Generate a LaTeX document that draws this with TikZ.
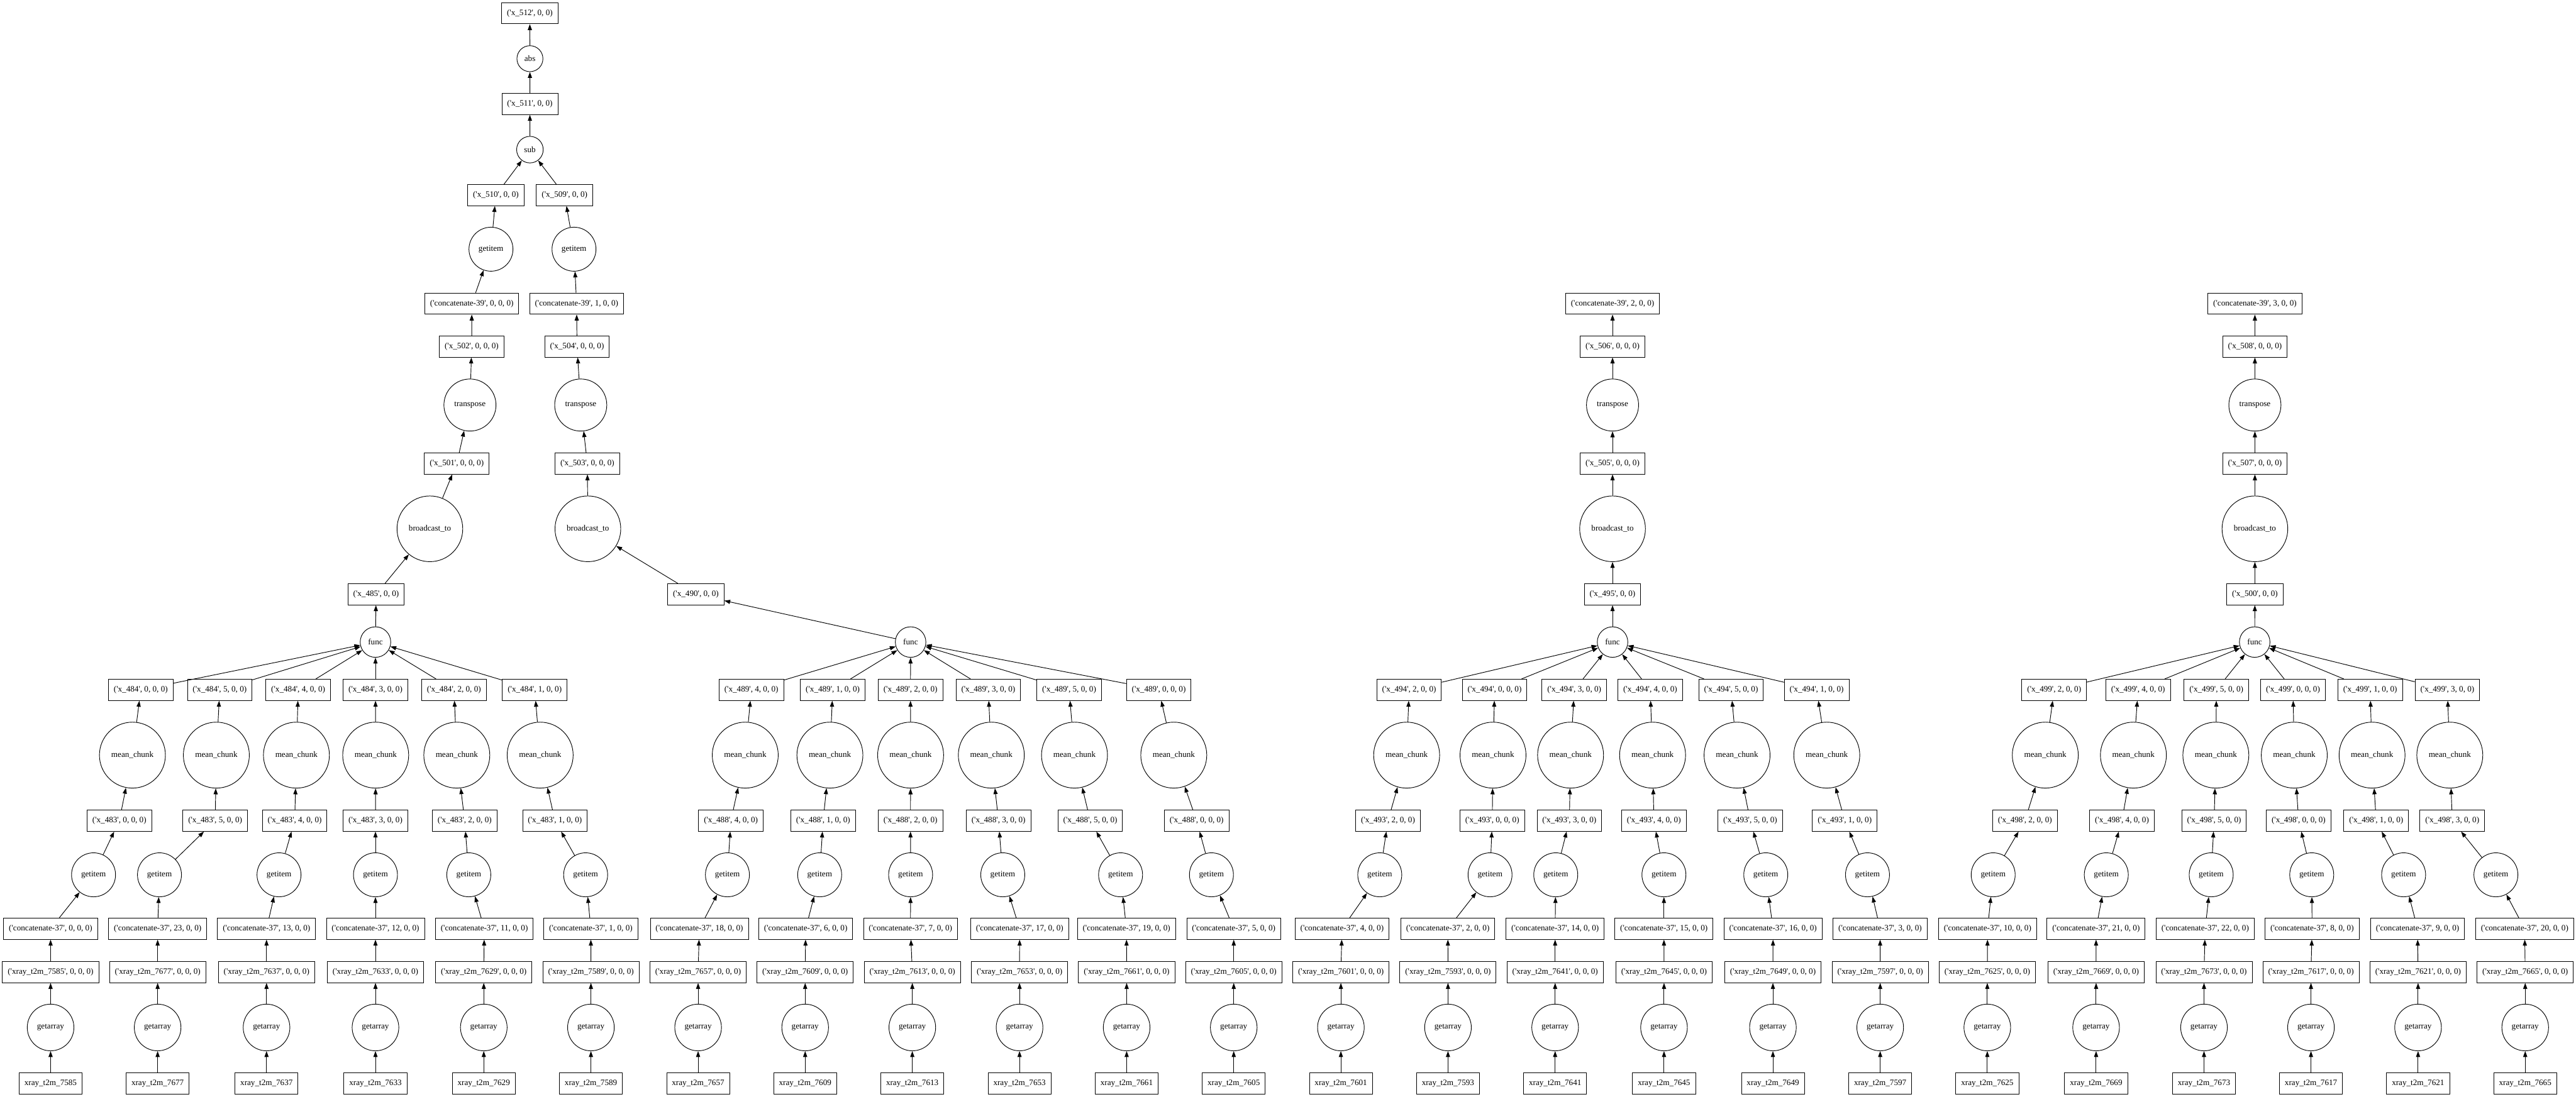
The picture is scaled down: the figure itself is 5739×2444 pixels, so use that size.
\documentclass[tikz,border=0pt]{standalone}
\usepackage{fontspec}
\newfontfamily\gvfont{Liberation Serif}
\usetikzlibrary{arrows.meta}
\tikzset{
  datanode/.style={rectangle, draw=black, line width=1pt, minimum width=54pt, minimum height=36pt, inner xsep=9pt, inner ysep=0pt, font=\gvfont\fontsize{14}{17}\selectfont},
  funcnode/.style={circle, draw=black, line width=1pt, inner sep=0pt, font=\gvfont\fontsize{14}{17}\selectfont},
  arrow/.style={line width=1pt, -{Triangle[length=10pt, width=7pt]}}
}

\begin{document}
\begin{tikzpicture}[x=0.76pt, y=-0.76pt]

    \useasboundingbox (0,0) rectangle (5739,2444);

    % Nodos func
    \foreach \fn/\xx in {f1/836.5, f2/2028.7, f3/3592.5, f4/5023.1} {
        \node[funcnode, minimum size=51.7pt] (\fn) at (\xx, 1431) {func};
    }

    % ==========================================
    % CADENAS DE LECTURA (xray -> mean_chunk)
    % ==========================================
    \foreach \id/\xb/\xc/\xg/\xa/\xm/\xo/\num/\kk/\src/\dst/\ii/\fn in {
        1/112.7/112.7/208.4/265.9/295/313.6/7585/0/483/484/0/f1,
        2/351.2/351.2/355.3/479.4/482/489.5/7677/23/483/484/5/f1,
        3/593.8/593.8/621.6/656.5/660.4/664.3/7637/13/483/484/4/f1,
        4/836.5/836.5/836.5/836.5/837/836.5/7633/12/483/484/3/f1,
        5/1077.8/1079/1044.4/1035.2/1017.7/1011.4/7629/11/483/484/2/f1,
        6/1316.5/1316.3/1304.7/1236.3/1203.4/1191.3/7589/1/483/484/1/f1,
        7/1555.3/1558/1620.6/1628.3/1660.3/1673.9/7657/18/488/489/4/f2,
        8/1793.8/1795/1826.1/1833.8/1848.9/1855.2/7609/6/488/489/1/f2,
        9/2032.5/2028.4/2028.7/2028.4/2028.7/2028.4/7613/7/488/489/2/f2,
        10/2271.4/2271.6/2234/2224.5/2208.5/2201.7/7653/17/488/489/3/f2,
        11/2510/2509.6/2496.5/2428.9/2393.8/2381.9/7661/19/488/489/5/f2,
        12/2748.6/2748.6/2698.9/2665.9/2615/2581.6/7605/5/488/489/0/f2,
        13/2987.3/2989.8/3073.9/3092.3/3133.8/3139.3/7601/4/493/494/2/f3,
        14/3225.9/3225.6/3319.6/3324.5/3326.2/3329.8/7593/2/493/494/0/f3,
        15/3464.6/3464.6/3466/3496.3/3499/3507.2/7641/14/493/494/3/f3,
        16/3707.2/3707/3707/3684.6/3681.7/3676.4/7645/15/493/494/4/f3,
        17/3949.8/3950.1/3933.9/3899.2/3869.9/3856.6/7649/16/493/494/5/f3,
        18/4188.8/4188.6/4160.5/4109.8/4069.8/4047.3/7597/3/493/494/1/f3,
        19/4427.4/4428/4440.5/4511.3/4556.6/4576.4/7625/10/498/499/2/f4,
        20/4669.8/4669.7/4692.5/4727.4/4752.9/4763.3/7669/21/498/499/4/f4,
        21/4910.2/4912.8/4926.2/4932.7/4936.6/4937.8/7673/22/498/499/5/f4,
        22/5148.5/5151/5150.2/5121/5111.3/5108.4/7617/8/498/499/0/f4,
        23/5387.1/5385.9/5354.9/5293.8/5284.6/5280.3/7621/9/498/499/1/f4,
        24/5625.8/5624.5/5560.5/5463.3/5457.8/5452.3/7665/20/498/499/3/f4} {
        \node[datanode] (base\id) at (\xb, 2415) {xray\_t2m\_\num};
        \node[funcnode, minimum size=79pt] (ga\id) at (\xb, 2290) {getarray};
        \node[datanode] (ld\id) at (\xb, 2166.5) {('xray\_t2m\_\num', 0, 0, 0)};
        \node[datanode] (cat\id) at (\xc, 2070) {('concatenate-37', \kk, 0, 0)};
        \node[funcnode, minimum size=74.5pt] (gt\id) at (\xg, 1949.7) {getitem};
        \node[datanode] (mid\id) at (\xa, 1829) {('x\_\src', \ii, 0, 0)};
        \node[funcnode, minimum size=111.7pt] (mc\id) at (\xm, 1683) {mean\_chunk};
        \node[datanode] (out\id) at (\xo, 1537.5) {('x\_\dst', \ii, 0, 0)};

        \draw[arrow] (base\id) -- (ga\id);
        \draw[arrow] (ga\id) -- (ld\id);
        \draw[arrow] (ld\id) -- (cat\id);
        \draw[arrow] (cat\id) -- (gt\id);
        \draw[arrow] (gt\id) -- (mid\id);
        \draw[arrow] (mid\id) -- (mc\id);
        \draw[arrow] (mc\id) -- (out\id);
        \draw[arrow] (out\id) -- (\fn);
    }

    % ==========================================
    % REDUCCION (func -> concatenate-39)
    % ==========================================
    \foreach \id/\xr/\xbc/\xs/\xt/\xe/\xcc/\agg/\bca/\tra/\kk in {
        1/837.8/957.7/1017.6/1047/1050.8/1051.1/485/501/502/0,
        2/1550.2/1309.7/1308.5/1293.8/1285.5/1284.5/490/503/504/1,
        3/3592.5/3592.5/3592.5/3592.5/3592.5/3592.5/495/505/506/2,
        4/5023.6/5023.6/5023.6/5023.6/5023.6/5023.6/500/507/508/3} {
        \node[datanode] (agg\id) at (\xr, 1324.6) {('x\_\agg', 0, 0)};
        \node[funcnode, minimum size=111.3pt] (bc\id) at (\xbc, 1178.6) {broadcast\_to};
        \node[datanode] (bca\id) at (\xs, 1033) {('x\_\bca', 0, 0, 0)};
        \node[funcnode, minimum size=88.2pt] (tr\id) at (\xt, 902.7) {transpose};
        \node[datanode] (tra\id) at (\xe, 772.4) {('x\_\tra', 0, 0, 0)};
        \node[datanode] (cc\id) at (\xcc, 676.8) {('concatenate-39', \kk, 0, 0)};

        \draw[arrow] (f\id) -- (agg\id);
        \draw[arrow] (agg\id) -- (bc\id);
        \draw[arrow] (bc\id) -- (bca\id);
        \draw[arrow] (bca\id) -- (tr\id);
        \draw[arrow] (tr\id) -- (tra\id);
        \draw[arrow] (tra\id) -- (cc\id);
    }

    % --- sub / abs ---
    \node[funcnode, minimum size=74.5pt] (gi1) at (1093.8, 555.4) {getitem};
    \node[funcnode, minimum size=74.5pt] (gi2) at (1278.8, 555.4) {getitem};
    \node[datanode] (x510) at (1104.7, 434.8) {('x\_510', 0, 0)};
    \node[datanode] (x509) at (1257.8, 434.8) {('x\_509', 0, 0)};
    \node[funcnode, minimum size=45pt] (sub) at (1180.6, 333.5) {sub};
    \node[datanode] (x511) at (1180.5, 231.7) {('x\_511', 0, 0)};
    \node[funcnode, minimum size=44pt] (abs) at (1180.6, 130.8) {abs};
    \node[datanode] (x512) at (1180.3, 29.5) {('x\_512', 0, 0)};

    \draw[arrow] (cc1) -- (gi1);
    \draw[arrow] (gi1) -- (x510);
    \draw[arrow] (x510) -- (sub);
    \draw[arrow] (cc2) -- (gi2);
    \draw[arrow] (gi2) -- (x509);
    \draw[arrow] (x509) -- (sub);
    \draw[arrow] (sub) -- (x511);
    \draw[arrow] (x511) -- (abs);
    \draw[arrow] (abs) -- (x512);

\end{tikzpicture}
\end{document}
